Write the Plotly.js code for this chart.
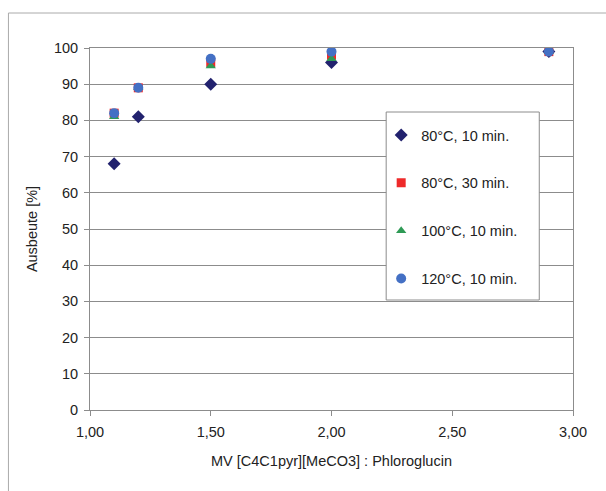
<!DOCTYPE html>
<html>
<head>
<meta charset="utf-8">
<script src="https://cdn.plot.ly/plotly-3.0.1.min.js"></script>
<style>html,body{margin:0;padding:0;background:#fff;}#chart{width:606px;height:491px;}</style>
</head>
<body>
<div id="chart"></div>
<script>
const xValues = [1.1, 1.2, 1.5, 2.0, 2.9];
const seriesNames = ['80°C, 10 min.', '80°C, 30 min.', '100°C, 10 min.', '120°C, 10 min.'];
const y80_10 = [68, 81, 90, 96, 99];
const y80_30 = [82, 89, 96, 98, 99];
const y100_10 = [81, 89, 95, 97, 99];
const y120_10 = [82, 89, 97, 99, 99];
const xTickVals = [1.0, 1.5, 2.0, 2.5, 3.0];
const yTickVals = [0, 10, 20, 30, 40, 50, 60, 70, 80, 90, 100];

const seriesY = [y80_10, y80_30, y100_10, y120_10];
const symbols = ['diamond', 'square', 'triangle-up', 'circle'];
const colors = ['#22226e', '#ee2a2a', '#2e9a55', '#4470c4'];
const sizes = [10, 9, 9, 10];

const traces = seriesY.map((ys, i) => ({
  x: xValues, y: ys, type: 'scatter', mode: 'markers', name: seriesNames[i],
  legendgroup: 'g' + i,
  marker: {symbol: symbols[i], color: colors[i], size: sizes[i], line: {width: 0}}
}));

const fam = 'Liberation Sans, Arial, sans-serif';
const layout = {
  width: 606, height: 491,
  margin: {l: 90, r: 33, t: 48, b: 81},
  paper_bgcolor: '#fff', plot_bgcolor: '#fff',
  font: {family: fam, size: 14, color: '#222'},
  separators: ',.',
  showlegend: true,
  legend: {
    x: (381 - 90) / 482.7, y: (410 - 119) / 362, xanchor: 'left', yanchor: 'top',
    bgcolor: 'rgba(0,0,0,0)', borderwidth: 0,
    font: {family: fam, size: 14.5, color: '#222'},
    tracegroupgap: 26, itemwidth: 30
  },
  xaxis: {
    range: [1, 3], tickvals: xTickVals, tickformat: '.2f',
    showgrid: false, zeroline: false,
    showline: true, linecolor: '#8c8c8c', linewidth: 1, mirror: true,
    ticks: 'outside', ticklen: 5, tickcolor: '#8c8c8c', ticklabelstandoff: 4,
    tickfont: {family: fam, size: 14.5, color: '#222'},
    title: {text: 'MV [C4C1pyr][MeCO3] : Phloroglucin', font: {family: fam, size: 14.5, color: '#222'}, standoff: 16}
  },
  yaxis: {
    range: [0, 100], tickvals: yTickVals,
    showgrid: true, gridcolor: '#8c8c8c', gridwidth: 1, zeroline: false,
    showline: true, linecolor: '#8c8c8c', linewidth: 1, mirror: true,
    ticks: 'outside', ticklen: 5, tickcolor: '#8c8c8c', ticklabelstandoff: 3,
    tickfont: {family: fam, size: 14.5, color: '#222'},
    title: {text: 'Ausbeute [%]', font: {family: fam, size: 14.5, color: '#222'}, standoff: 12}
  },
  shapes: [
    {type: 'rect', xref: 'paper', yref: 'paper', x0: (386 - 90) / 482.7, x1: (539 - 90) / 482.7,
     y0: (410 - 300) / 362, y1: (410 - 112) / 362, line: {color: '#8c8c8c', width: 1}, fillcolor: '#fff', layer: 'above'},
    {type: 'rect', xref: 'paper', yref: 'paper', x0: (8.5 - 90) / 482.7, x1: (620 - 90) / 482.7,
     y0: (410 - 500) / 362, y1: (410 - 13) / 362, line: {color: '#aaaaaa', width: 1}, fillcolor: 'rgba(0,0,0,0)', layer: 'below'}
  ]
};

Plotly.newPlot('chart', traces, layout, {displayModeBar: false, staticPlot: true});
</script>
</body>
</html>
